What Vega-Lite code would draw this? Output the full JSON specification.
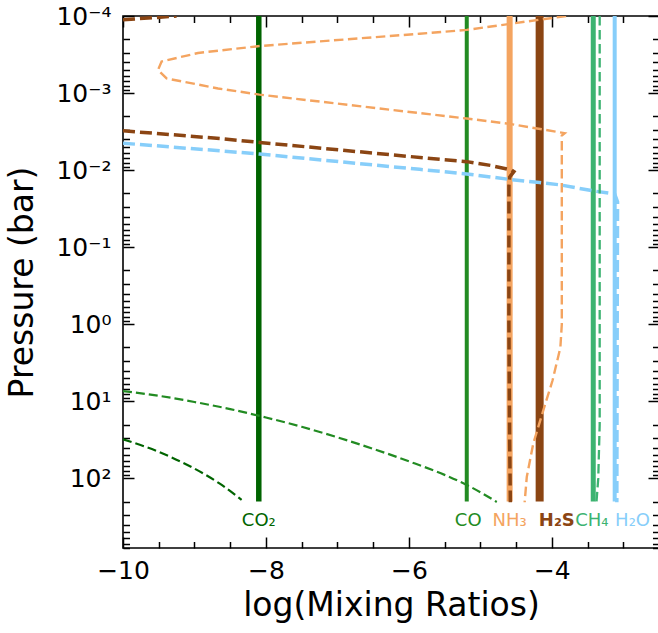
{
  "$schema": "https://vega.github.io/schema/vega-lite/v6.json",
  "width": 536,
  "height": 532,
  "autosize": {"type": "none"},
  "padding": {"left": 123, "top": 16, "right": 0, "bottom": 85},
  "config": {
    "view": {"stroke": "black", "strokeWidth": 1.6},
    "font": "DejaVu Sans",
    "axis": {
      "grid": false, "domain": false, "labelFont": "DejaVu Sans", "titleFont": "DejaVu Sans",
      "labelColor": "black", "titleColor": "black", "tickColor": "black", "tickWidth": 1.5,
      "labelFontSize": 25, "titleFontSize": 33, "titleFontWeight": "normal",
      "labelOverlap": false, "labelFlush": false, "tickSize": 0
    }
  },
  "datasets": {
    "solid": [
      {"species": "CO2", "x": -8.1, "p": 0.0001, "i": 0}, {"species": "CO2", "x": -8.1, "p": 200, "i": 1},
      {"species": "CO", "x": -5.19, "p": 0.0001, "i": 0}, {"species": "CO", "x": -5.19, "p": 200, "i": 1},
      {"species": "NH3", "x": -4.59, "p": 0.0001, "i": 0}, {"species": "NH3", "x": -4.59, "p": 200, "i": 1},
      {"species": "H2S", "x": -4.17, "p": 0.0001, "i": 0}, {"species": "H2S", "x": -4.17, "p": 200, "i": 1},
      {"species": "CH4", "x": -3.42, "p": 0.0001, "i": 0}, {"species": "CH4", "x": -3.42, "p": 200, "i": 1},
      {"species": "H2O", "x": -3.12, "p": 0.0001, "i": 0}, {"species": "H2O", "x": -3.12, "p": 200, "i": 1}
    ],
    "dashed": [
      {"species": "NH3", "seg": "NH3", "i": 0, "x": -3.80, "p": 0.0001},
      {"species": "NH3", "seg": "NH3", "i": 1, "x": -5.19, "p": 0.0001514},
      {"species": "NH3", "seg": "NH3", "i": 2, "x": -5.85, "p": 0.0001698},
      {"species": "NH3", "seg": "NH3", "i": 3, "x": -8.09, "p": 0.0002455},
      {"species": "NH3", "seg": "NH3", "i": 4, "x": -8.67, "p": 0.0002818},
      {"species": "NH3", "seg": "NH3", "i": 5, "x": -8.95, "p": 0.000302},
      {"species": "NH3", "seg": "NH3", "i": 6, "x": -9.46, "p": 0.000389},
      {"species": "NH3", "seg": "NH3", "i": 7, "x": -9.51, "p": 0.000501},
      {"species": "NH3", "seg": "NH3", "i": 8, "x": -9.39, "p": 0.000646},
      {"species": "NH3", "seg": "NH3", "i": 9, "x": -8.67, "p": 0.000871},
      {"species": "NH3", "seg": "NH3", "i": 10, "x": -8.09, "p": 0.001047},
      {"species": "NH3", "seg": "NH3", "i": 11, "x": -5.85, "p": 0.00182},
      {"species": "NH3", "seg": "NH3", "i": 12, "x": -5.19, "p": 0.002138},
      {"species": "NH3", "seg": "NH3", "i": 13, "x": -4.59, "p": 0.002512},
      {"species": "NH3", "seg": "NH3", "i": 14, "x": -3.82, "p": 0.003311},
      {"species": "NH3", "seg": "NH3", "i": 15, "x": -3.86, "p": 0.003548},
      {"species": "NH3", "seg": "NH3", "i": 16, "x": -3.86, "p": 0.1},
      {"species": "NH3", "seg": "NH3", "i": 17, "x": -3.86, "p": 1},
      {"species": "NH3", "seg": "NH3", "i": 18, "x": -3.88, "p": 2.0},
      {"species": "NH3", "seg": "NH3", "i": 19, "x": -3.99, "p": 5.37},
      {"species": "NH3", "seg": "NH3", "i": 20, "x": -4.12, "p": 13.18},
      {"species": "NH3", "seg": "NH3", "i": 21, "x": -4.26, "p": 35.5},
      {"species": "NH3", "seg": "NH3", "i": 22, "x": -4.35, "p": 95.5},
      {"species": "NH3", "seg": "NH3", "i": 23, "x": -4.38, "p": 204},
      {"species": "H2S", "seg": "H2S_top", "i": 0, "x": -10, "p": 0.000112},
      {"species": "H2S", "seg": "H2S_top", "i": 1, "x": -9.25, "p": 0.0001},
      {"species": "H2S", "seg": "H2S", "i": 0, "x": -10, "p": 0.00309},
      {"species": "H2S", "seg": "H2S", "i": 1, "x": -8.64, "p": 0.00389},
      {"species": "H2S", "seg": "H2S", "i": 2, "x": -8.09, "p": 0.00437},
      {"species": "H2S", "seg": "H2S", "i": 3, "x": -5.57, "p": 0.00724},
      {"species": "H2S", "seg": "H2S", "i": 4, "x": -5.19, "p": 0.00776},
      {"species": "H2S", "seg": "H2S", "i": 5, "x": -4.85, "p": 0.00871},
      {"species": "H2S", "seg": "H2S", "i": 6, "x": -4.56, "p": 0.01},
      {"species": "H2S", "seg": "H2S", "i": 7, "x": -4.53, "p": 0.01047},
      {"species": "H2S", "seg": "H2S", "i": 8, "x": -4.59, "p": 0.0123},
      {"species": "H2S", "seg": "H2S", "i": 9, "x": -4.60, "p": 0.01585},
      {"species": "H2S", "seg": "H2S", "i": 10, "x": -4.60, "p": 1},
      {"species": "H2S", "seg": "H2S", "i": 11, "x": -4.59, "p": 31.6},
      {"species": "H2S", "seg": "H2S", "i": 12, "x": -4.58, "p": 204},
      {"species": "H2O", "seg": "H2O", "i": 0, "x": -10, "p": 0.00447},
      {"species": "H2O", "seg": "H2O", "i": 1, "x": -8.64, "p": 0.00562},
      {"species": "H2O", "seg": "H2O", "i": 2, "x": -8.09, "p": 0.00617},
      {"species": "H2O", "seg": "H2O", "i": 3, "x": -5.85, "p": 0.00977},
      {"species": "H2O", "seg": "H2O", "i": 4, "x": -5.19, "p": 0.0112},
      {"species": "H2O", "seg": "H2O", "i": 5, "x": -4.59, "p": 0.0132},
      {"species": "H2O", "seg": "H2O", "i": 6, "x": -4.17, "p": 0.0145},
      {"species": "H2O", "seg": "H2O", "i": 7, "x": -3.89, "p": 0.0155},
      {"species": "H2O", "seg": "H2O", "i": 8, "x": -3.42, "p": 0.0186},
      {"species": "H2O", "seg": "H2O", "i": 9, "x": -3.12, "p": 0.0204},
      {"species": "H2O", "seg": "H2O", "i": 10, "x": -3.08, "p": 0.0257},
      {"species": "H2O", "seg": "H2O", "i": 11, "x": -3.085, "p": 1},
      {"species": "H2O", "seg": "H2O", "i": 12, "x": -3.09, "p": 204},
      {"species": "CH4", "seg": "CH4", "i": 0, "x": -3.33, "p": 0.0001},
      {"species": "CH4", "seg": "CH4", "i": 1, "x": -3.33, "p": 20},
      {"species": "CH4", "seg": "CH4", "i": 2, "x": -3.35, "p": 100},
      {"species": "CH4", "seg": "CH4", "i": 3, "x": -3.375, "p": 204}
    ],
    "curves": [
      {"species": "CO", "seg": "CO", "i": 0, "x": -10, "p": 7.35},
      {"species": "CO", "seg": "CO", "i": 1, "x": -9.5, "p": 8.47},
      {"species": "CO", "seg": "CO", "i": 2, "x": -9, "p": 10.2},
      {"species": "CO", "seg": "CO", "i": 3, "x": -8.5, "p": 12.6},
      {"species": "CO", "seg": "CO", "i": 4, "x": -8, "p": 16.2},
      {"species": "CO", "seg": "CO", "i": 5, "x": -7.5, "p": 21.4},
      {"species": "CO", "seg": "CO", "i": 6, "x": -7, "p": 29.3},
      {"species": "CO", "seg": "CO", "i": 7, "x": -6.5, "p": 41.3},
      {"species": "CO", "seg": "CO", "i": 8, "x": -6, "p": 60.0},
      {"species": "CO", "seg": "CO", "i": 9, "x": -5.5, "p": 90.0},
      {"species": "CO", "seg": "CO", "i": 10, "x": -5.19, "p": 121.6},
      {"species": "CO", "seg": "CO", "i": 11, "x": -4.77, "p": 202},
      {"species": "CO2", "seg": "CO2", "i": 0, "x": -10, "p": 31.1},
      {"species": "CO2", "seg": "CO2", "i": 1, "x": -9.5, "p": 45.2},
      {"species": "CO2", "seg": "CO2", "i": 2, "x": -9.07, "p": 69},
      {"species": "CO2", "seg": "CO2", "i": 3, "x": -8.64, "p": 118},
      {"species": "CO2", "seg": "CO2", "i": 4, "x": -8.34, "p": 190}
    ],
    "labels": [
      {"species": "CO2", "label": "CO₂", "x": -8.1, "p": 411},
      {"species": "CO", "label": "CO", "x": -5.17, "p": 411},
      {"species": "NH3", "label": "NH₃", "x": -4.59, "p": 411},
      {"species": "H2S", "label": "H₂S", "x": -3.93, "p": 411},
      {"species": "CH4", "label": "CH₄", "x": -3.44, "p": 411},
      {"species": "H2O", "label": "H₂O", "x": -2.87, "p": 411}
    ]
  },
  "resolve": {
    "axis": {"x": "independent", "y": "independent"},
    "scale": {"strokeWidth": "independent", "strokeDash": "independent"}
  },
  "layer": [
    {
      "data": {"name": "solid"},
      "mark": {"type": "line", "clip": true, "strokeCap": "butt"},
      "encoding": {
        "x": {
          "field": "x", "type": "quantitative",
          "scale": {"domain": [-10, -2.5], "nice": false, "zero": false},
          "axis": {
            "orient": "bottom",
            "values": [-10, -9.5, -9, -8.5, -8, -7.5, -7, -6.5, -6, -5.5, -5, -4.5, -4, -3.5, -3, -2.5],
            "labelExpr": "datum.value % 2 === 0 ? format(datum.value, 'd') : ''",
            "labelPadding": 10,
            "title": "log(Mixing Ratios)",
            "titleX": 268, "titleY": 57, "titleAlign": "center", "titleBaseline": "middle",
            "encoding": {"ticks": {"y2": {"condition": {"test": "datum.value % 2 === 0", "value": -11}, "value": -6.5}}}
          }
        },
        "y": {
          "field": "p", "type": "quantitative",
          "scale": {"type": "log", "domain": [0.0001, 800], "reverse": true, "nice": false},
          "axis": {
            "orient": "left",
            "values": [0.0001, 0.0002, 0.0003, 0.0004, 0.0005, 0.0006, 0.0007, 0.0008, 0.0009,
                       0.001, 0.002, 0.003, 0.004, 0.005, 0.006, 0.007, 0.008, 0.009,
                       0.01, 0.02, 0.03, 0.04, 0.05, 0.06, 0.07, 0.08, 0.09,
                       0.1, 0.2, 0.3, 0.4, 0.5, 0.6, 0.7, 0.8, 0.9,
                       1, 2, 3, 4, 5, 6, 7, 8, 9,
                       10, 20, 30, 40, 50, 60, 70, 80, 90,
                       100, 200, 300, 400, 500, 600, 700, 800],
            "labelExpr": "abs(log(datum.value)/LN10 - round(log(datum.value)/LN10)) < 1e-6 ? '10' + ['⁻⁴','⁻³','⁻²','⁻¹','⁰','¹','²'][round(log(datum.value)/LN10) + 4] : ''",
            "labelPadding": 12,
            "labelBaseline": "middle",
            "title": "Pressure (bar)",
            "titleX": -101, "titleY": 266, "titleAngle": -90, "titleAlign": "center", "titleBaseline": "middle",
            "encoding": {"ticks": {"x2": {"condition": {"test": "abs(log(datum.value)/LN10 - round(log(datum.value)/LN10)) < 1e-6", "value": 11}, "value": 6.5}}}
          }
        },
        "color": {
          "field": "species", "type": "nominal", "legend": null,
          "scale": {"domain": ["CO2", "CO", "NH3", "H2S", "CH4", "H2O"],
                    "range": ["#006400", "#228B22", "#F4A460", "#8B4513", "#3CB371", "#87CEFA"]}
        },
        "strokeWidth": {
          "field": "species", "type": "nominal", "legend": null,
          "scale": {"type": "ordinal", "domain": ["CO2", "CO", "NH3", "H2S", "CH4", "H2O"], "range": [5.5, 4, 6, 8, 5, 4]}
        },
        "order": {"field": "i", "type": "quantitative"}
      }
    },
    {
      "data": {"name": "dashed"},
      "mark": {"type": "line", "clip": true, "strokeCap": "butt"},
      "encoding": {
        "x": {
          "field": "x", "type": "quantitative",
          "scale": {"domain": [-10, -2.5], "nice": false, "zero": false},
          "axis": {
            "orient": "top",
            "values": [-10, -9.5, -9, -8.5, -8, -7.5, -7, -6.5, -6, -5.5, -5, -4.5, -4, -3.5, -3, -2.5],
            "labels": false, "title": null,
            "encoding": {"ticks": {"y2": {"condition": {"test": "datum.value % 2 === 0", "value": 11}, "value": 6.5}}}
          }
        },
        "y": {
          "field": "p", "type": "quantitative",
          "scale": {"type": "log", "domain": [0.0001, 800], "reverse": true, "nice": false},
          "axis": {
            "orient": "right",
            "values": [0.0001, 0.0002, 0.0003, 0.0004, 0.0005, 0.0006, 0.0007, 0.0008, 0.0009,
                       0.001, 0.002, 0.003, 0.004, 0.005, 0.006, 0.007, 0.008, 0.009,
                       0.01, 0.02, 0.03, 0.04, 0.05, 0.06, 0.07, 0.08, 0.09,
                       0.1, 0.2, 0.3, 0.4, 0.5, 0.6, 0.7, 0.8, 0.9,
                       1, 2, 3, 4, 5, 6, 7, 8, 9,
                       10, 20, 30, 40, 50, 60, 70, 80, 90,
                       100, 200, 300, 400, 500, 600, 700, 800],
            "labels": false, "title": null,
            "encoding": {"ticks": {"x2": {"condition": {"test": "abs(log(datum.value)/LN10 - round(log(datum.value)/LN10)) < 1e-6", "value": -11}, "value": -6.5}}}
          }
        },
        "color": {"field": "species", "type": "nominal", "legend": null},
        "detail": {"field": "seg", "type": "nominal"},
        "strokeWidth": {
          "field": "species", "type": "nominal", "legend": null,
          "scale": {"type": "ordinal", "domain": ["CO2", "CO", "NH3", "H2S", "CH4", "H2O"], "range": [2.2, 2.2, 2.4, 3.5, 2.3, 3.5]}
        },
        "strokeDash": {
          "field": "species", "type": "nominal", "legend": null,
          "scale": {"type": "ordinal", "domain": ["CO2", "CO", "NH3", "H2S", "CH4", "H2O"],
                    "range": [[9, 4], [9, 4], [9.5, 4.5], [12, 5], [9.5, 4.5], [12, 5]]}
        },
        "order": {"field": "i", "type": "quantitative"}
      }
    },
    {
      "data": {"name": "curves"},
      "mark": {"type": "line", "clip": true, "strokeCap": "butt", "interpolate": "monotone", "strokeWidth": 2.2, "strokeDash": [9, 4]},
      "encoding": {
        "x": {"field": "x", "type": "quantitative", "axis": null,
              "scale": {"domain": [-10, -2.5], "nice": false, "zero": false}},
        "y": {"field": "p", "type": "quantitative", "axis": null,
              "scale": {"type": "log", "domain": [0.0001, 800], "reverse": true, "nice": false}},
        "color": {"field": "species", "type": "nominal", "legend": null},
        "order": {"field": "i", "type": "quantitative"}
      }
    },
    {
      "data": {"name": "labels"},
      "transform": [{"filter": "datum.species !== 'H2S'"}],
      "mark": {"type": "text", "fontSize": 18, "baseline": "alphabetic", "align": "center", "font": "DejaVu Sans"},
      "encoding": {
        "x": {"field": "x", "type": "quantitative", "axis": null,
              "scale": {"domain": [-10, -2.5], "nice": false, "zero": false}},
        "y": {"field": "p", "type": "quantitative", "axis": null,
              "scale": {"type": "log", "domain": [0.0001, 800], "reverse": true, "nice": false}},
        "text": {"field": "label"},
        "color": {"field": "species", "type": "nominal", "legend": null}
      }
    },
    {
      "data": {"name": "labels"},
      "transform": [{"filter": "datum.species === 'H2S'"}],
      "mark": {"type": "text", "fontSize": 18, "fontWeight": "bold", "baseline": "alphabetic", "align": "center", "font": "DejaVu Sans"},
      "encoding": {
        "x": {"field": "x", "type": "quantitative", "axis": null,
              "scale": {"domain": [-10, -2.5], "nice": false, "zero": false}},
        "y": {"field": "p", "type": "quantitative", "axis": null,
              "scale": {"type": "log", "domain": [0.0001, 800], "reverse": true, "nice": false}},
        "text": {"field": "label"},
        "color": {"field": "species", "type": "nominal", "legend": null}
      }
    }
  ]
}
